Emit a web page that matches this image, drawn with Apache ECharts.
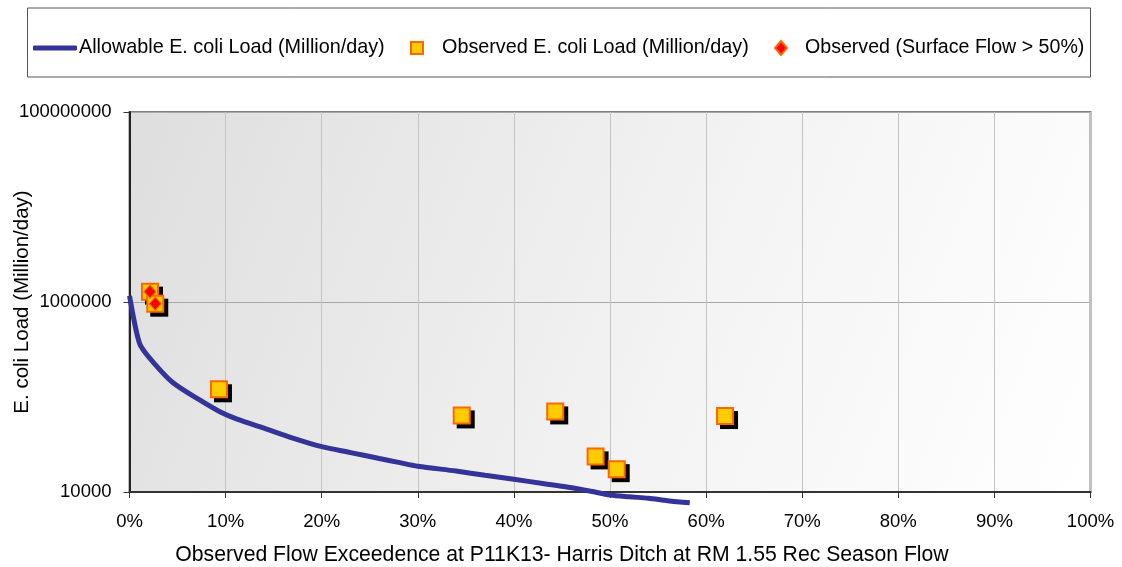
<!DOCTYPE html>
<html>
<head>
<meta charset="utf-8">
<script src="https://cdn.jsdelivr.net/npm/echarts@6/dist/echarts.min.js"></script>
<style>
html,body{margin:0;padding:0;background:#fff;}
#chart{width:1122px;height:567px;}
</style>
</head>
<body>
<div id="chart"></div>
<script>
// ---- data ----
const seriesNames = ['Allowable E. coli Load (Million/day)', 'Observed E. coli Load (Million/day)', 'Observed (Surface Flow > 50%)'];
const xAxisTitle = 'Observed Flow Exceedence at P11K13- Harris Ditch at RM 1.55 Rec Season Flow';
const yAxisTitle = 'E. coli Load (Million/day)';
const xTicks = [0, 10, 20, 30, 40, 50, 60, 70, 80, 90, 100];
const yTicks = [10000, 1000000, 100000000];

// allowable load curve (flow exceedence %, load)
const allowX = [0, 0.4, 0.8, 1.2, 2.5, 4.5, 7.3, 9.4, 11.2, 14, 17, 20, 23, 26, 28, 30, 34, 37, 40, 43, 45.5, 48, 50, 52, 54, 56, 58.3];
const allowY = [1160000, 700000, 450000, 340000, 230000, 142000, 93000, 70000, 58500, 47000, 37000, 30000, 26000, 22500, 20500, 18700, 16600, 15000, 13600, 12300, 11300, 10200, 9300, 8900, 8600, 8100, 7700];

// observed loads
const obsX = [2.13, 2.68, 9.31, 34.57, 44.3, 48.5, 50.7, 61.97];
const obsY = [1285000, 960000, 120500, 64000, 70500, 23700, 17400, 63000];

// observed when surface flow > 50%
const surfX = [2.13, 2.68];
const surfY = [1285000, 960000];

const zip = (a, b) => a.map((v, i) => [v, b[i]]);

const chart = echarts.init(document.getElementById('chart'), null, {renderer: 'canvas'});
const FONT = 'Liberation Sans, Arial, sans-serif';

const option = {
  animation: false,
  backgroundColor: '#ffffff',
  textStyle: {fontFamily: FONT, color: '#000'},
  graphic: [{
    type: 'rect',
    shape: {x: 27.5, y: 8, width: 1063, height: 69},
    style: {fill: 'none', stroke: '#555555', lineWidth: 1},
    z: -1
  }],
  legend: [
    {
      data: [{name: seriesNames[0], icon: 'roundRect'}],
      left: 28, top: 33,
      itemWidth: 44, itemHeight: 5,
      textStyle: {fontFamily: FONT, fontSize: 19.8, color: '#000', padding: [0, 0, 0, -3]}
    },
    {
      data: [{name: seriesNames[1], icon: 'rect'}],
      left: 405, top: 33,
      itemWidth: 12, itemHeight: 12,
      itemStyle: {shadowColor: 'transparent', shadowOffsetX: 0, shadowOffsetY: 0, borderWidth: 2},
      textStyle: {fontFamily: FONT, fontSize: 19.8, color: '#000', padding: [0, 0, 0, 14]}
    },
    {
      data: [{name: seriesNames[2], icon: 'diamond'}],
      left: 769, top: 33,
      itemWidth: 12, itemHeight: 14,
      itemStyle: {shadowColor: 'transparent', shadowOffsetX: 0, shadowOffsetY: 0},
      textStyle: {fontFamily: FONT, fontSize: 19.6, color: '#000', padding: [0, 0, 0, 13]}
    }
  ],
  grid: {
    left: 129.5, right: 31.5, top: 112, bottom: 75,
    outerBoundsMode: 'none',
    containLabel: false,
    show: true,
    borderColor: '#808080', borderWidth: 2,
    backgroundColor: {
      type: 'linear', x: 0, y: 0, x2: 1, y2: 1,
      colorStops: [{offset: 0, color: '#dedede'}, {offset: 0.6, color: '#f4f4f4'}, {offset: 1, color: '#ffffff'}]
    }
  },
  xAxis: {
    type: 'value',
    min: xTicks[0], max: xTicks[xTicks.length - 1], interval: 10,
    name: xAxisTitle,
    nameLocation: 'middle', nameGap: 53,
    nameMoveOverlap: false,
    nameTextStyle: {fontFamily: FONT, fontSize: 21.2, color: '#000', padding: [0, 96, 0, 0]},
    axisLine: {show: true, lineStyle: {color: '#333', width: 2}},
    axisTick: {show: true, inside: false, length: 6, lineStyle: {color: '#333', width: 1}},
    axisLabel: {fontFamily: FONT, fontSize: 18.5, color: '#000', margin: 20, formatter: v => v + '%'},
    splitLine: {show: true, lineStyle: {color: '#c4c4c4', width: 1}}
  },
  yAxis: {
    type: 'log', logBase: 10,
    min: yTicks[0], max: yTicks[yTicks.length - 1], interval: 2,
    name: yAxisTitle,
    nameLocation: 'middle', nameGap: 97, nameRotate: 90,
    nameMoveOverlap: false,
    nameTextStyle: {fontFamily: FONT, fontSize: 20.5, color: '#000'},
    axisLine: {show: true, lineStyle: {color: '#222', width: 2}},
    axisTick: {show: true, inside: false, length: 6, lineStyle: {color: '#333', width: 1}},
    axisLabel: {fontFamily: FONT, fontSize: 18.5, color: '#000', margin: 18, formatter: v => String(Math.round(v))},
    splitLine: {show: true, lineStyle: {color: '#a8a8a8', width: 1}},
    minorTick: {show: false}, minorSplitLine: {show: false}
  },
  series: [
    {
      name: seriesNames[0],
      type: 'line',
      data: zip(allowX, allowY),
      showSymbol: false, symbol: 'none',
      smooth: 0.3,
      clip: false,
      lineStyle: {color: '#333399', width: 5},
      itemStyle: {color: '#333399'},
      z: 3
    },
    {
      name: 'shadow',
      type: 'scatter',
      data: zip(obsX, obsY),
      symbol: 'rect', symbolSize: 18, symbolOffset: [4, 4],
      itemStyle: {color: '#000000', opacity: 1},
      silent: true,
      z: 4
    },
    {
      name: seriesNames[1],
      type: 'scatter',
      data: zip(obsX, obsY),
      symbol: 'rect', symbolSize: 16,
      itemStyle: {color: '#ffcc00', borderColor: '#ff6600', borderWidth: 2, opacity: 1},
      z: 5
    },
    {
      name: seriesNames[2],
      type: 'scatter',
      data: zip(surfX, surfY),
      symbol: 'diamond', symbolSize: [12, 13],
      itemStyle: {color: '#ff0000', borderColor: '#ff6600', borderWidth: 1, opacity: 1},
      z: 6
    }
  ]
};
chart.setOption(option);
</script>
</body>
</html>
